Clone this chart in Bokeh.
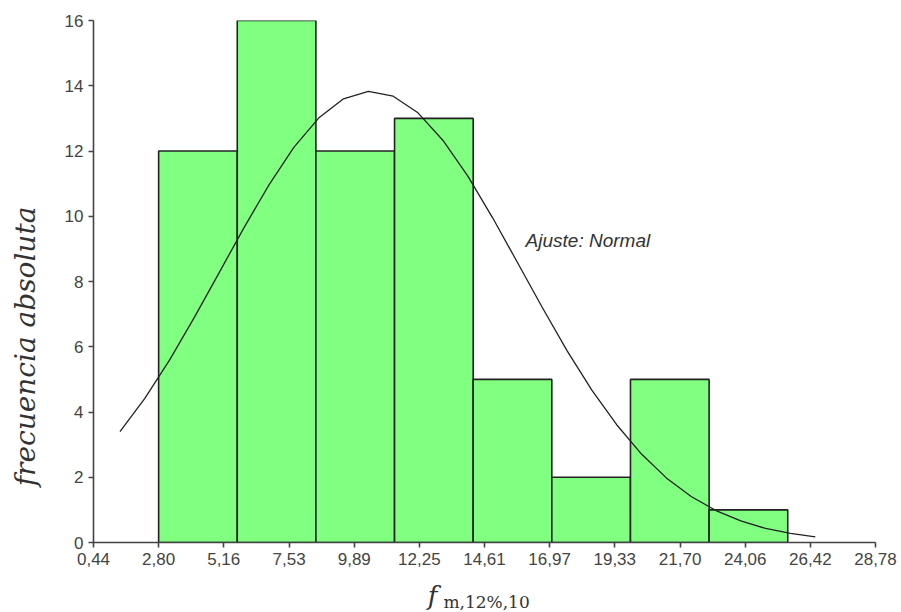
import math
from bokeh.plotting import figure
from bokeh.layouts import row, column
from bokeh.models import Range1d, FixedTicker, CustomJSTickFormatter, Label
from bokeh.core.properties import value
from bokeh.embed import file_html
from bokeh.resources import INLINE

# --- data ---
bin_edges = [2.80, 5.65, 8.50, 11.35, 14.20, 17.05, 19.90, 22.75, 25.60]
counts = [12, 16, 12, 13, 5, 2, 5, 1]

fit_x = [1.4, 2.3, 3.2, 4.1, 5.0, 5.9, 6.8, 7.7, 8.6, 9.5, 10.4, 11.3, 12.2, 13.1,
         14.0, 14.9, 15.8, 16.7, 17.6, 18.5, 19.4, 20.3, 21.2, 22.1, 23.0, 23.9,
         24.8, 25.7, 26.6]
fit_y = [3.40, 4.42, 5.60, 6.91, 8.28, 9.66, 10.96, 12.11, 13.01, 13.60, 13.83,
         13.68, 13.17, 12.33, 11.24, 9.96, 8.59, 7.21, 5.88, 4.67, 3.61, 2.71,
         1.98, 1.41, 0.98, 0.66, 0.43, 0.28, 0.17]

x_ticks = [0.44, 2.80, 5.16, 7.53, 9.89, 12.25, 14.61, 16.97, 19.33, 21.70, 24.06, 26.42, 28.78]
y_ticks = [0, 2, 4, 6, 8, 10, 12, 14, 16]

y_title = "frecuencia absoluta"
x_title_main = "f"
x_title_sub = "m,12%,10"
fit_label = "Ajuste: Normal"

TEXT = "#333333"
AXIS = "#444444"

# ---------------- main plot ----------------
p = figure(width=851, height=576, output_backend="svg", toolbar_location=None,
           x_range=Range1d(0.44, 28.78), y_range=Range1d(0, 16),
           min_border_left=43, min_border_right=26, min_border_top=20,
           min_border_bottom=34)
p.outline_line_color = None
p.grid.visible = False

p.quad(left=bin_edges[:-1], right=bin_edges[1:], bottom=0, top=counts,
       fill_color="#80FF80", line_color="#222222", line_width=1.6)
p.line(fit_x, fit_y, line_color="#222222", line_width=1.3)

for ax in (p.xaxis[0], p.yaxis[0]):
    ax.axis_line_color = AXIS
    ax.axis_line_width = 1.6
    ax.major_tick_line_color = AXIS
    ax.major_tick_line_width = 1.6
    ax.major_tick_in = 0
    ax.major_tick_out = 5
    ax.minor_tick_line_color = None
    ax.major_label_text_font = "Liberation Sans"
    ax.major_label_text_font_size = "17px"
    ax.major_label_text_color = AXIS

p.xaxis.ticker = FixedTicker(ticks=x_ticks)
p.xaxis.formatter = CustomJSTickFormatter(code="return tick.toFixed(2).replace('.', ',');")
p.xaxis.major_label_standoff = 5

p.yaxis.ticker = FixedTicker(ticks=y_ticks)
p.yaxis.major_label_standoff = 5

p.add_layout(Label(x=16.1, y=9.26, text=fit_label, text_font="Liberation Sans",
                   text_font_style="italic", text_font_size="19px",
                   text_color=TEXT, text_baseline="middle"))

# ---------------- left strip: y title ----------------
pl = figure(width=50, height=612, output_backend="svg", toolbar_location=None,
            x_range=Range1d(0, 50), y_range=Range1d(0, 612),
            x_axis_location=None, y_axis_location=None, min_border=0)
pl.outline_line_color = None
pl.grid.visible = False
pl.text(x=[25], y=[266], text=[y_title], angle=math.pi / 2,
        text_font=value("DejaVu Serif"), text_font_style="italic",
        text_font_size="28px", text_color=TEXT,
        text_align="center", text_baseline="middle")

# ---------------- bottom strip: x title ----------------
pb = figure(width=851, height=36, output_backend="svg", toolbar_location=None,
            x_range=p.x_range, y_range=Range1d(0, 36),
            x_axis_location=None, y_axis_location=None,
            min_border_left=43, min_border_right=26, min_border_top=0,
            min_border_bottom=0)
pb.outline_line_color = None
pb.grid.visible = False
pb.text(x=[12.55], y=[17], text=[x_title_main], text_font=value("DejaVu Serif"),
        text_font_style="italic", text_font_size="26px", text_color=TEXT,
        text_align="left", text_baseline="alphabetic")
pb.text(x=[13.12], y=[11], text=[x_title_sub], text_font=value("DejaVu Serif"),
        text_font_size="17px", text_color=TEXT,
        text_align="left", text_baseline="alphabetic")

layout = row(pl, column(p, pb, spacing=0), spacing=0)
open("out.html", "w").write(file_html(layout, INLINE))
